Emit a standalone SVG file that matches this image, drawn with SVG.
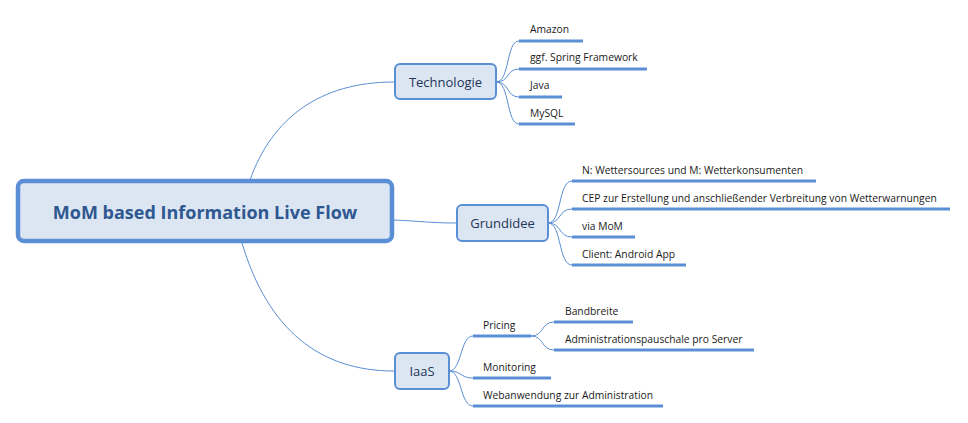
<svg xmlns="http://www.w3.org/2000/svg" width="968" height="423" viewBox="0 0 968 423">
<style>
.bg{fill:#ffffff}
.root{fill:#dce6f3;stroke:#5a8fd5;stroke-width:4.5}
.box{fill:#dce6f3;stroke:#5a8fd5;stroke-width:2}
.rt{font-family:"Open Sans","Noto Sans",sans-serif;font-weight:bold;font-size:18px;fill:#2f5790;text-anchor:middle}
.bt{font-family:"Open Sans","Noto Sans",sans-serif;font-size:13px;fill:#1f3558;text-anchor:middle}
.lt{font-family:"Open Sans","Noto Sans",sans-serif;font-size:10.3px;fill:#1a1a1a}
.ul{stroke:#5a8fd5;stroke-width:3;fill:none}
.cn{stroke:#5a8fd5;stroke-width:1;fill:none}
</style>
<rect class="bg" x="0" y="0" width="968" height="423"/>
<g id="connectors">
<path class="cn" d="M250,180 C272,118 320,82 394,82"/>
<path class="cn" d="M393,220 C420,221 430,223 456,223"/>
<path class="cn" d="M242,243 C268,330 320,371 394,371"/>
<path class="cn" d="M496,82 C510,82 506,41 519,41"/>
<path class="cn" d="M496,82 C510,82 506,69 519,69"/>
<path class="cn" d="M496,82 C510,82 506,97 519,97"/>
<path class="cn" d="M496,82 C510,82 506,124 519,124"/>
<path class="cn" d="M548,223 C562,223 558,181 572,181"/>
<path class="cn" d="M548,223 C562,223 558,209 572,209"/>
<path class="cn" d="M548,223 C562,223 558,237 572,237"/>
<path class="cn" d="M548,223 C562,223 558,265 572,265"/>
<path class="cn" d="M449,371 C462,371 460,336 473,336"/>
<path class="cn" d="M449,371 C462,371 460,378 473,378"/>
<path class="cn" d="M449,371 C462,371 460,406 473,406"/>
<path class="cn" d="M531,336 C544,336 541,322 554,322"/>
<path class="cn" d="M531,336 C544,336 541,350 554,350"/>
</g>
<g id="root">
<rect class="root" x="18" y="181" width="374" height="60" rx="6"/>
<text class="rt" x="205" y="219">MoM based Information Live Flow</text>
</g>
<g id="technologie">
<rect class="box" x="395" y="64" width="101" height="35" rx="5"/>
<text class="bt" x="445.5" y="87">Technologie</text>
</g>
<g id="grundidee">
<rect class="box" x="457" y="205" width="91" height="36" rx="5"/>
<text class="bt" x="502.5" y="228">Grundidee</text>
</g>
<g id="iaas">
<rect class="box" x="395" y="353" width="54" height="36" rx="5"/>
<text class="bt" x="422" y="376">IaaS</text>
</g>
<g id="amazon"><path class="ul" d="M519,41 H583"/><text class="lt" x="530" y="33">Amazon</text></g>
<g id="spring"><path class="ul" d="M519,69 H647"/><text class="lt" x="530" y="61">ggf. Spring Framework</text></g>
<g id="java"><path class="ul" d="M519,97 H562"/><text class="lt" x="530" y="89">Java</text></g>
<g id="mysql"><path class="ul" d="M519,124 H575"/><text class="lt" x="530" y="117">MySQL</text></g>
<g id="n-m"><path class="ul" d="M572,181 H816"/><text class="lt" x="582" y="174">N: Wettersources und M: Wetterkonsumenten</text></g>
<g id="cep"><path class="ul" d="M572,209 H950"/><text class="lt" x="582" y="202">CEP zur Erstellung und anschließender Verbreitung von Wetterwarnungen</text></g>
<g id="viamom"><path class="ul" d="M572,237 H635"/><text class="lt" x="582" y="230">via MoM</text></g>
<g id="client"><path class="ul" d="M572,265 H686"/><text class="lt" x="582" y="258">Client: Android App</text></g>
<g id="pricing"><path class="ul" d="M473,336 H531"/><text class="lt" x="483" y="329">Pricing</text></g>
<g id="monitoring"><path class="ul" d="M473,378 H551"/><text class="lt" x="483" y="371">Monitoring</text></g>
<g id="webanwendung"><path class="ul" d="M473,406 H663"/><text class="lt" x="483" y="399">Webanwendung zur Administration</text></g>
<g id="bandbreite"><path class="ul" d="M554,322 H633"/><text class="lt" x="565" y="315">Bandbreite</text></g>
<g id="adminpauschale"><path class="ul" d="M554,350 H754"/><text class="lt" x="565" y="343">Administrationspauschale pro Server</text></g>
</svg>
